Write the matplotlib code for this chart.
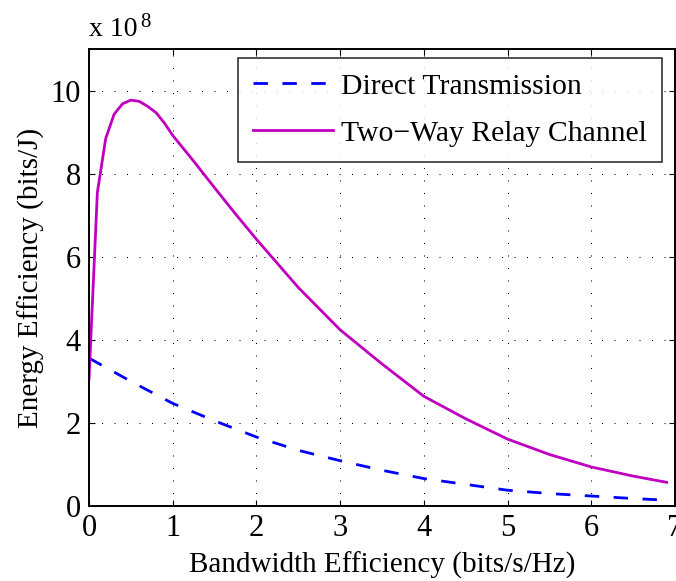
import matplotlib
matplotlib.use("Agg")
import matplotlib.pyplot as plt

plt.rcParams['font.family'] = ['Liberation Serif', 'DejaVu Serif']

# Energy efficiency (x 1e8 bits/J) versus bandwidth efficiency (bits/s/Hz)
dt_x = [0, 0.5, 1.0, 1.5, 2.0, 2.5, 3.0, 3.5, 4.0, 4.5, 5.0, 5.5, 6.0, 6.5, 6.9]
dt_y = [3.56, 3.00, 2.47, 2.05, 1.66, 1.34, 1.09, 0.86, 0.66, 0.52, 0.38, 0.30, 0.24, 0.18, 0.14]

twrc_x = [0, 0.1, 0.2, 0.3, 0.4, 0.5, 0.6, 0.7, 0.8, 0.9, 1.0, 1.25, 1.5, 1.75,
          2.0, 2.5, 3.0, 3.5, 4.0, 4.5, 5.0, 5.5, 6.0, 6.5, 6.9]
twrc_y = [3.05, 7.55, 8.85, 9.43, 9.68, 9.77, 9.74, 9.62, 9.47, 9.22, 8.92, 8.30,
          7.66, 7.03, 6.42, 5.26, 4.24, 3.42, 2.64, 2.10, 1.61, 1.24, 0.94, 0.72, 0.57]

series_labels = ['Direct Transmission', 'Two\u2212Way Relay Channel']
x_ticks = [0, 1, 2, 3, 4, 5, 6, 7]
y_ticks = [0, 2, 4, 6, 8, 10]

fig = plt.figure(figsize=(6.76, 5.81), dpi=100)
ax = fig.add_axes([89 / 676, 1 - 506 / 581, 586 / 676, 457 / 581])

ax.plot(dt_x, dt_y, color='#0000FF', lw=2.0, linestyle=(0, (5.2, 5.2)),
        label=series_labels[0])
ax.plot(twrc_x, twrc_y, color='#C000C0', lw=2.0, label=series_labels[1])

ax.set_xlim(0, 7)
ax.set_ylim(0, 11)
ax.set_xticks(x_ticks)
ax.set_yticks(y_ticks)
ax.tick_params(direction='in', length=4, width=0.8, top=True, right=True,
               labelsize=22, pad=6, colors='black')
for s in ax.spines.values():
    s.set_linewidth(1.4)

ax.grid(True, color='black', linestyle=(0, (1, 11)), linewidth=0.75)
ax.set_axisbelow(True)

ax.set_xlabel('Bandwidth Efficiency (bits/s/Hz)', fontsize=21, labelpad=6)
ax.set_ylabel('Energy Efficiency (bits/J)', fontsize=21, labelpad=4)

# exponent multiplier for the y axis
fig.text(89 / 676, 1 - 36 / 581, 'x 10', fontsize=20, ha='left', va='baseline')
fig.text(140 / 676, 1 - 27 / 581, '8', fontsize=15, ha='left', va='baseline')

leg = ax.legend(loc='upper right', bbox_to_anchor=(662 / 676, 1 - 58 / 581),
                bbox_transform=fig.transFigure, fontsize=21.4, frameon=True,
                fancybox=False, edgecolor='black', handlelength=2.7,
                handletextpad=0.27, labelspacing=0.68, borderpad=0.5,
                borderaxespad=0)
leg.get_frame().set_linewidth(1.2)

fig.savefig('out.png', dpi=100, facecolor='white')
